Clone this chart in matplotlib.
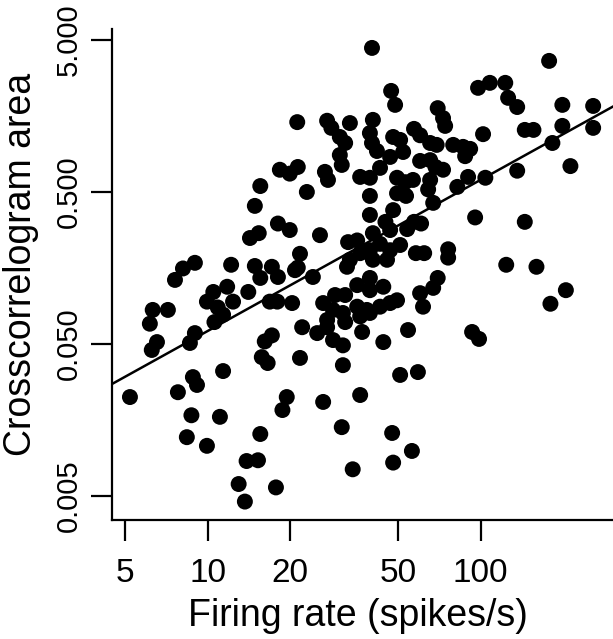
import numpy as np
import matplotlib
matplotlib.use("Agg")
import matplotlib.pyplot as plt

plt.rcParams["font.family"] = ["Liberation Sans", "DejaVu Sans"]

# firing rate (spikes/s) and crosscorrelogram area
rate = [
    40.0, 178, 97.8, 108, 123, 126, 136, 199, 258, 47.0, 48.6, 69.6, 72.8, 74.1,
    21.3, 27.4, 28.4, 33.2, 30.5, 31.9, 30.5, 31.0, 40.3, 39.3, 40.0, 41.7,
    47.8, 50.7, 52.0, 46.6, 57.0, 60.0, 65.3, 69.0, 102, 79.3, 86.2, 91.5, 87.7,
    60.0, 65.3, 68.3, 72.8, 145, 156, 199, 258, 183, 213, 136,
    18.4, 20.0, 21.4, 26.9, 27.6, 36.2, 39.3, 42.8, 49.4, 52.9, 49.4, 53.3,
    56.5, 65.3, 64.2, 89.9, 82.1, 104, 23.1, 39.3, 15.6,
    67.0, 53.8, 57.0, 60.5, 95.4, 145, 39.3, 47.8, 44.8, 46.6, 14.9, 18.1,
    20.0, 14.3, 15.4, 25.8, 32.7, 35.3, 33.2, 36.2, 40.3, 42.8, 39.3, 40.3,
    45.4, 46.6, 50.7, 57.9, 62.1, 76.0, 76.0, 21.8, 21.4, 24.3,
    8.13, 8.99, 7.6, 12.2, 14.9, 15.6, 17.2, 18.1, 20.9, 32.4, 35.3, 39.3,
    44.0, 39.3, 29.3, 31.9, 26.5, 28.8, 31.3, 27.4, 35.3, 38.3, 42.8, 46.6,
    49.4, 36.2, 39.3, 60.0, 69.6, 67.0, 61.5, 124, 160, 205, 180,
    9.95, 10.5, 11.8, 10.9, 12.4, 14.1, 10.6, 11.4, 16.9, 18.0, 20.4, 8.99,
    8.62, 16.2, 17.2, 6.3, 6.15, 7.16, 6.53, 6.25, 22.2, 25.2, 27.4, 28.8,
    31.3, 31.9, 36.8, 44.0, 54.2, 21.8, 31.3, 50.7, 58.9, 36.2, 26.5, 19.5,
    31.0, 47.4, 93.0, 98.6, 15.8, 16.6, 11.4, 8.84, 9.15, 7.79, 5.2, 18.8,
    8.73, 11.1, 8.4, 9.95, 15.6, 13.9, 15.3, 13.0, 17.8, 13.7, 34.0, 56.0, 47.8,
]
area = [
    4.43, 3.64, 2.42, 2.61, 2.61, 2.08, 1.81, 1.87, 1.84, 2.31, 1.87, 1.78, 1.53, 1.36,
    1.44, 1.47, 1.32, 1.42, 1.15, 1.05, 0.875, 0.753, 1.49, 1.22, 1.05, 0.93,
    1.15, 1.10, 0.916, 0.85, 1.30, 1.18, 1.05, 1.02, 1.20, 1.02, 0.99, 0.96, 0.86,
    0.80, 0.81, 0.73, 0.70, 1.28, 1.28, 1.36, 1.32, 1.05, 0.74, 0.69,
    0.70, 0.66, 0.73, 0.678, 0.60, 0.628, 0.62, 0.72, 0.62, 0.58, 0.49, 0.471,
    0.60, 0.60, 0.52, 0.628, 0.54, 0.62, 0.50, 0.471, 0.547,
    0.424, 0.285, 0.318, 0.31, 0.34, 0.318, 0.353, 0.38, 0.318, 0.281, 0.405, 0.31,
    0.281, 0.249, 0.268, 0.26, 0.234, 0.24, 0.179, 0.198, 0.268, 0.228, 0.207, 0.179,
    0.179, 0.207, 0.224, 0.198, 0.198, 0.21, 0.185, 0.196, 0.159, 0.138,
    0.157, 0.171, 0.132, 0.166, 0.163, 0.136, 0.161, 0.138, 0.153, 0.161, 0.122, 0.113,
    0.119, 0.136, 0.105, 0.105, 0.093, 0.0838, 0.080, 0.072, 0.088, 0.0838, 0.088, 0.093,
    0.097, 0.076, 0.080, 0.108, 0.136, 0.117, 0.088, 0.166, 0.161, 0.113, 0.092,
    0.095, 0.110, 0.119, 0.087, 0.095, 0.110, 0.0697, 0.078, 0.095, 0.095, 0.093, 0.059,
    0.0508, 0.052, 0.057, 0.0838, 0.068, 0.0838, 0.0515, 0.0457, 0.0645, 0.059, 0.0645, 0.0531,
    0.049, 0.0697, 0.060, 0.0515, 0.0618, 0.0405, 0.0363, 0.0313, 0.0327, 0.0231, 0.0208, 0.0224,
    0.0142, 0.013, 0.060, 0.054, 0.041, 0.0375, 0.0332, 0.0303, 0.0269, 0.0241, 0.0224, 0.0184,
    0.017, 0.0166, 0.0122, 0.0107, 0.0128, 0.0085, 0.0086, 0.006, 0.0057, 0.0046, 0.0075, 0.0099, 0.0083,
]

# regression line in log-log space: log10(area) = fit_a + fit_b * log10(rate)
fit_a = -2.211
fit_b = 0.995

x_ticks = [5, 10, 20, 50, 100]
x_labels = ["5", "10", "20", "50", "100"]
y_ticks = [0.005, 0.05, 0.5, 5]
y_labels = ["0.005", "0.050", "0.500", "5.000"]

fig = plt.figure(figsize=(6.13, 6.39), dpi=100)
ax = fig.add_axes([112 / 613, 119 / 639, 1 - 112 / 613, 491 / 639])

ax.set_xscale("log")
ax.set_yscale("log")
ax.set_xlim(4.47, 305)
ax.set_ylim(0.00348, 5.9)

ax.scatter(rate, area, s=132, c="black", edgecolors="none", zorder=3)

xs = np.array(ax.get_xlim())
ax.plot(xs, 10 ** (fit_a + fit_b * np.log10(xs)), color="black", linewidth=1.8, zorder=2)

ax.spines["top"].set_visible(False)
ax.spines["right"].set_visible(False)
for s in ["left", "bottom"]:
    ax.spines[s].set_linewidth(1.6)

ax.set_xticks(x_ticks)
ax.set_xticklabels(x_labels)
ax.set_yticks(y_ticks)
ax.set_yticklabels(y_labels)
ax.minorticks_off()
ax.tick_params(axis="both", length=15, width=1.6)
ax.tick_params(axis="x", pad=12, labelsize=24)
ax.tick_params(axis="y", pad=6, labelsize=21)
plt.setp(ax.get_yticklabels(), rotation=90, va="center")

ax.set_xlabel("Firing rate (spikes/s)", fontsize=27)
ax.xaxis.set_label_coords(0.49, -0.158)
ax.set_ylabel("Crosscorrelogram area", fontsize=27)
ax.yaxis.set_label_coords(-0.145, 0.52)

fig.savefig("out.png", dpi=100)
